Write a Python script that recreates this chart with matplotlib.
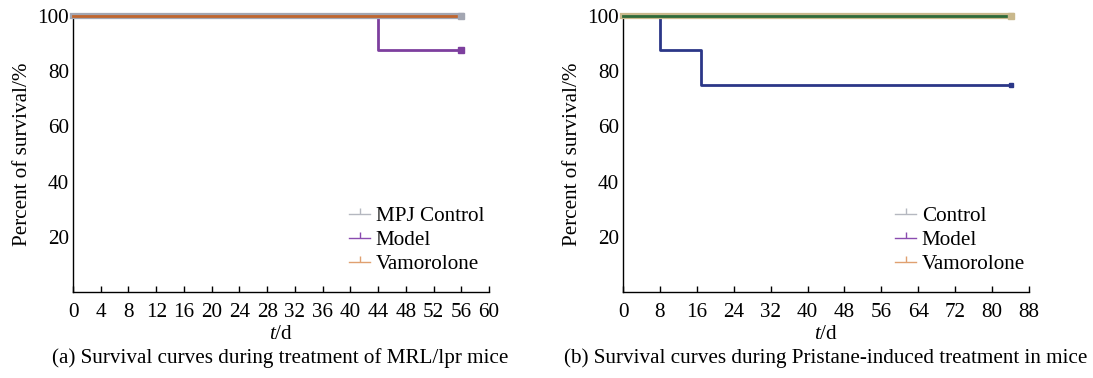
import matplotlib
matplotlib.use("Agg")
import matplotlib.pyplot as plt
from matplotlib.lines import Line2D

plt.rcParams['font.family'] = ['Liberation Serif', 'DejaVu Serif']
plt.rcParams['mathtext.fontset'] = 'custom'
plt.rcParams['mathtext.it'] = 'Liberation Serif:italic'
plt.rcParams['mathtext.rm'] = 'Liberation Serif'

# Panel (a) data: MRL/lpr mice
a_control_t = [0, 56]
a_control_s = [100, 100]
a_model_t = [0, 44, 56]
a_model_s = [100, 87.5, 87.5]
a_vam_t = [0, 56]
a_vam_s = [100, 100]
a_xticks = list(range(0, 61, 4))
a_labels = ["MPJ Control", "Model", "Vamorolone"]

# Panel (b) data: Pristane-induced mice
b_control_t = [0, 84]
b_control_s = [100, 100]
b_model_t = [0, 8, 17, 84]
b_model_s = [100, 87.5, 75, 75]
b_vam_t = [0, 84]
b_vam_s = [100, 100]
b_xticks = list(range(0, 89, 8))
b_labels = ["Control", "Model", "Vamorolone"]

yticks = [20, 40, 60, 80, 100]

fig = plt.figure(figsize=(10.93, 3.78), dpi=100)
axa = fig.add_axes([0.0668, 0.2275, 0.3806, 0.7302])
axb = fig.add_axes([0.570, 0.2275, 0.3715, 0.7302])

FS = 15.2

def style(ax, xmax, xticks):
    ax.set_xlim(0, xmax)
    ax.set_ylim(0, 100)
    ax.set_xticks(xticks)
    ax.set_yticks(yticks)
    for s in ['top', 'right']:
        ax.spines[s].set_visible(False)
    ax.spines['left'].set_linewidth(1.0)
    ax.spines['bottom'].set_linewidth(1.0)
    ax.tick_params(axis='x', direction='in', length=4, width=1, labelsize=FS, pad=8)
    ax.tick_params(axis='y', direction='in', length=0, labelsize=FS, pad=3)
    ax.set_xlabel(r"$\mathit{t}$/d", fontsize=FS, labelpad=2)
    ax.set_ylabel("Percent of survival/%", fontsize=FS, labelpad=4)

# Panel (a)
axa.step(a_control_t, a_control_s, where='post', color='#a3a6b2', lw=4.5, clip_on=False, zorder=3)
axa.step(a_model_t, a_model_s, where='post', color='#7d3f9e', lw=2.0, clip_on=False, zorder=2)
axa.step(a_vam_t, a_vam_s, where='post', color='#c0652e', lw=2.0, clip_on=False, zorder=4)
axa.plot([a_control_t[-1]], [a_control_s[-1]], 's', color='#a3a6b2', ms=4, clip_on=False, zorder=5)
axa.plot([a_model_t[-1]], [a_model_s[-1]], 's', color='#7d3f9e', ms=4, clip_on=False, zorder=5)
style(axa, 60, a_xticks)

# Panel (b)
axb.step(b_vam_t, b_vam_s, where='post', color='#c9b88c', lw=4.5, clip_on=False, zorder=3)
axb.step(b_control_t, b_control_s, where='post', color='#2e6a38', lw=2.0, clip_on=False, zorder=4)
axb.step(b_model_t, b_model_s, where='post', color='#2b3788', lw=2.0, clip_on=False, zorder=2)
axb.plot([b_vam_t[-1]], [b_vam_s[-1]], 's', color='#c9b88c', ms=4, clip_on=False, zorder=5)
axb.plot([b_model_t[-1]], [b_model_s[-1]], 's', color='#2b3788', ms=3, clip_on=False, zorder=5)
style(axb, 88, b_xticks)

leg_colors = ['#b5b8c0', '#8a4cb0', '#e0a070']

def legend(ax, labels, anchor):
    handles = [Line2D([0, 1], [0, 0], color=c, lw=1.0, marker=2, ms=4, mew=1.0)
               for c in leg_colors]
    lg = ax.legend(handles, labels, loc='lower right', bbox_to_anchor=anchor,
                   frameon=False, fontsize=FS, handlelength=1.0,
                   handletextpad=0.25, labelspacing=0.2, borderpad=0,
                   borderaxespad=0)
    return lg

legend(axa, a_labels, (0.988, 0.065))
legend(axb, b_labels, (0.990, 0.065))

fig.text(0.2565, 0.052, "(a) Survival curves during treatment of MRL/lpr mice",
         ha='center', va='center', fontsize=FS)
fig.text(0.7555, 0.052, "(b) Survival curves during Pristane-induced treatment in mice",
         ha='center', va='center', fontsize=FS)

fig.savefig("out.png", dpi=100)
